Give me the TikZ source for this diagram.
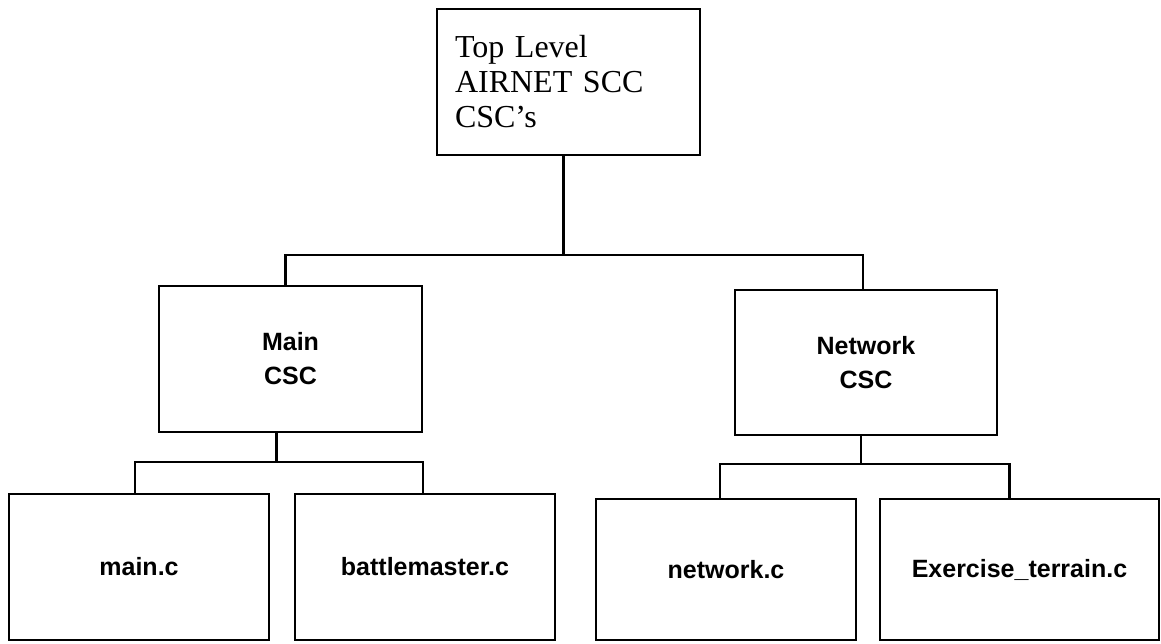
\documentclass[tikz,border=0pt]{standalone}
\usepackage{fontspec}
\setmainfont{Liberation Serif}
\newfontfamily\boxsans{Liberation Sans}
\begin{document}
\begin{tikzpicture}[x=1pt,y=-1pt,
  box/.style={draw=black,line width=2.6pt,rectangle,inner sep=0pt,align=center},
  sanslbl/.style={font=\boxsans\bfseries\fontsize{25}{34}\selectfont},
  conn/.style={draw=black,line width=2.6pt}]
\useasboundingbox[fill=white] (0,0) rectangle (1161,643);
% top box
\node[box,minimum width=263pt,minimum height=146pt,text width=227pt,align=left,
      font=\fontsize{32}{35}\selectfont] (top) at (568.5,82) {Top Level\\AIRNET SCC\\CSC's};
% second level
\node[box,sanslbl,minimum width=263pt,minimum height=146pt] (main) at (290.5,359) {Main\\CSC};
\node[box,sanslbl,minimum width=262pt,minimum height=145pt] (net) at (866,362.5) {Network\\CSC};
% leaves
\node[box,sanslbl,minimum width=260pt,minimum height=146pt] (mainc) at (139,567) {main.c};
\node[box,sanslbl,minimum width=260pt,minimum height=146pt] (battle) at (425,567) {battlemaster.c};
\node[box,sanslbl,minimum width=260pt,minimum height=141pt] (netc) at (726,569.5) {network.c};
\node[box,sanslbl,minimum width=279pt,minimum height=141pt] (exer) at (1019.5,569.5) {Exercise\_terrain.c};
% bus coordinates
\coordinate (busTop) at (0,255);
\coordinate (busMain) at (0,462);
\coordinate (busNet) at (0,464);
\coordinate (mainOut) at ([xshift=-14pt]main.south);
\coordinate (netOut) at ([xshift=-5pt]net.south);
\coordinate (topOut) at ([xshift=-5pt]top.south);
% connectors
\draw[conn] (topOut) -- (topOut |- busTop) -| ([xshift=-5pt]main.north);
\draw[conn] (topOut |- busTop) -| ([xshift=-3pt]net.north);
\draw[conn] (mainOut) -- (mainOut |- busMain) -| ([xshift=-4pt]mainc.north);
\draw[conn] (mainOut |- busMain) -| ([xshift=-2pt]battle.north);
\draw[conn] (netOut) -- (netOut |- busNet) -| ([xshift=-6pt]netc.north);
\draw[conn] (netOut |- busNet) -| ([xshift=-10pt]exer.north);
\end{tikzpicture}
\end{document}
